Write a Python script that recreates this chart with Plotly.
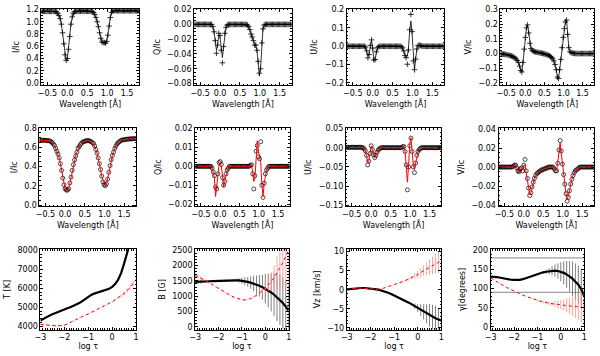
import plotly.graph_objects as go

W, H = 600, 356

# wavelength grid of the spectral panels [A]
wl = [-0.66, -0.63, -0.60, -0.57, -0.54, -0.51, -0.48, -0.45, -0.42, -0.39,
      -0.36, -0.33, -0.30, -0.27, -0.24, -0.21, -0.18, -0.15, -0.12, -0.09,
      -0.06, -0.03, 0.00, 0.03, 0.06, 0.09, 0.12, 0.15, 0.18, 0.21,
      0.24, 0.27, 0.30, 0.33, 0.36, 0.39, 0.42, 0.45, 0.48, 0.51,
      0.54, 0.57, 0.60, 0.63, 0.66, 0.69, 0.72, 0.75, 0.78, 0.81,
      0.84, 0.87, 0.90, 0.93, 0.96, 0.99, 1.02, 1.05, 1.08, 1.11,
      1.14, 1.17, 1.20, 1.23, 1.26, 1.29, 1.32, 1.35, 1.38, 1.41,
      1.44, 1.47, 1.50, 1.53, 1.56, 1.59, 1.62, 1.65, 1.68, 1.71,
      1.74, 1.77, 1.80]

# top row: observed profiles (+) and fit
top_i = [1.17, 1.172, 1.17, 1.168, 1.17, 1.172, 1.17, 1.17, 1.168, 1.17,
         1.17, 1.17, 1.165, 1.16, 1.14, 1.10, 1.05, 0.96, 0.82, 0.64,
         0.46, 0.37, 0.40, 0.55, 0.76, 0.96, 1.08, 1.14, 1.16, 1.17,
         1.17, 1.172, 1.17, 1.17, 1.175, 1.172, 1.17, 1.175, 1.172, 1.17,
         1.17, 1.17, 1.17, 1.165, 1.15, 1.12, 1.07, 1.00, 0.92, 0.82,
         0.73, 0.67, 0.66, 0.66, 0.65, 0.68, 0.78, 0.93, 1.07, 1.15,
         1.175, 1.18, 1.18, 1.182, 1.18, 1.18, 1.18, 1.182, 1.18, 1.18,
         1.18, 1.18, 1.182, 1.18, 1.18, 1.18, 1.18, 1.18, 1.182, 1.18,
         1.18, 1.18, 1.18]
top_q_obs = [0, 0, 0, 0, 0, 0, 0, 0, 0, 0,
             0, 0, 0, 0, 0, 0, -0.003, -0.010, -0.022, -0.039,
             -0.028, -0.012, -0.015, -0.035, -0.052, -0.030, -0.012, -0.004, -0.001, 0,
             0, 0, 0, 0, 0, 0, 0, 0, 0, 0,
             0, 0, 0, 0, 0, -0.001, -0.003, -0.007, -0.013, -0.017,
             -0.022, -0.028, -0.028, -0.035, -0.050, -0.066, -0.060, -0.025, -0.006, -0.001,
             0, 0, 0, 0, 0, 0, 0, 0, 0, 0,
             0, 0, 0, 0, 0, 0, 0, 0, 0, 0,
             0, 0, 0]
top_q_fit = [0, 0, 0, 0, 0, 0, 0, 0, 0, 0,
             0, 0, 0, 0, 0, 0, -0.003, -0.010, -0.022, -0.035,
             -0.028, -0.014, -0.017, -0.035, -0.045, -0.030, -0.012, -0.004, -0.001, 0,
             0, 0, 0, 0, 0, 0, 0, 0, 0, 0,
             0, 0, 0, 0, 0, -0.001, -0.003, -0.007, -0.013, -0.019,
             -0.023, -0.026, -0.029, -0.036, -0.052, -0.070, -0.058, -0.025, -0.006, -0.001,
             0, 0, 0, 0, 0, 0, 0, 0, 0, 0,
             0, 0, 0, 0, 0, 0, 0, 0, 0, 0,
             0, 0, 0]
top_u_obs = [0, 0, 0, 0, 0, 0, 0, 0, 0, 0,
             0, 0, 0, 0, 0, 0, -0.005, -0.025, -0.063, -0.045,
             0.005, 0.035, -0.010, -0.075, -0.072, -0.030, -0.008, -0.002, 0, 0,
             0, 0, 0, 0, 0, 0, 0, 0, 0, 0,
             0, 0, 0, 0, 0, 0, -0.002, -0.008, -0.025, -0.050,
             -0.062, -0.098, -0.020, 0.090, 0.174, 0.080, -0.080, -0.128, -0.070, -0.015,
             0.004, 0.006, 0.004, 0.002, 0, 0, 0, 0, 0, 0,
             0, 0, 0, 0, 0, 0, 0, 0, 0, 0,
             0, 0, 0]
top_u_fit = [0, 0, 0, 0, 0, 0, 0, 0, 0, 0,
             0, 0, 0, 0, 0, 0, -0.005, -0.025, -0.054, -0.042,
             0.003, 0.033, -0.010, -0.078, -0.070, -0.030, -0.008, -0.002, 0, 0,
             0, 0, 0, 0, 0, 0, 0, 0, 0, 0,
             0, 0, 0, 0, 0, 0, -0.002, -0.008, -0.025, -0.048,
             -0.060, -0.055, -0.005, 0.085, 0.138, 0.070, -0.075, -0.130, -0.068, -0.015,
             0.004, 0.006, 0.004, 0.002, 0, 0, 0, 0, 0, 0,
             0, 0, 0, 0, 0, 0, 0, 0, 0, 0,
             0, 0, 0]
top_v = [-0.002, -0.002, -0.003, -0.004, -0.005, -0.006, -0.008, -0.010, -0.012, -0.014,
         -0.017, -0.020, -0.025, -0.030, -0.037, -0.047, -0.060, -0.085, -0.115, -0.125,
         -0.060, 0.030, 0.110, 0.175, 0.195, 0.140, 0.070, 0.035, 0.022, 0.016,
         0.013, 0.011, 0.009, 0.008, 0.006, 0.005, 0.003, 0.001, -0.001, -0.003,
         -0.005, -0.008, -0.011, -0.015, -0.020, -0.027, -0.036, -0.050, -0.075, -0.110,
         -0.160, -0.170, -0.110, -0.040, 0.040, 0.110, 0.170, 0.215, 0.228, 0.130,
         0.040, 0.012, 0.006, 0.004, 0.002, 0.001, 0, 0, 0, 0,
         0, 0, 0, 0, 0, 0, 0, 0, 0, 0,
         0, 0, 0]

# middle row: observed profiles (o) and fit (red)
mid_i = [0.675, 0.675, 0.672, 0.675, 0.672, 0.675, 0.672, 0.67, 0.67, 0.668,
         0.66, 0.65, 0.635, 0.62, 0.59, 0.56, 0.53, 0.49, 0.43, 0.36,
         0.28, 0.21, 0.17, 0.155, 0.155, 0.17, 0.23, 0.29, 0.36, 0.42,
         0.47, 0.51, 0.55, 0.59, 0.61, 0.63, 0.645, 0.655, 0.66, 0.665,
         0.67, 0.67, 0.67, 0.665, 0.66, 0.65, 0.64, 0.615, 0.58, 0.54,
         0.49, 0.43, 0.37, 0.30, 0.24, 0.21, 0.20, 0.22, 0.27, 0.34,
         0.41, 0.47, 0.515, 0.55, 0.59, 0.615, 0.635, 0.65, 0.66, 0.67,
         0.675, 0.678, 0.68, 0.682, 0.685, 0.685, 0.687, 0.688, 0.688, 0.69,
         0.69, 0.69, 0.69]
mid_q_obs = [0, 0, 0, 0, 0, 0, 0, 0, 0, 0,
             0, 0, 0, 0, 0, -0.001, -0.003, -0.005, -0.011, -0.012,
             -0.004, 0.002, 0.0025, 0.001, -0.006, -0.010, -0.008, -0.004, -0.002, -0.001,
             0, 0, 0, 0, 0, 0, 0, 0, 0, 0,
             0, 0, 0, 0, 0, 0, 0, 0, 0.0005, 0.0008,
             -0.004, -0.012, -0.005, 0.008, 0.011, 0.005, 0.004, 0.013, -0.010, -0.0165,
             -0.009, -0.004, -0.002, -0.001, 0, 0, 0, 0, 0, 0,
             0, 0, 0, 0, 0, 0, 0, 0, 0, 0,
             0, 0, 0]
mid_q_fit = [0, 0, 0, 0, 0, 0, 0, 0, 0, 0,
             0, 0, 0, 0, 0, -0.001, -0.003, -0.006, -0.016, -0.010,
             -0.003, 0.001, 0.002, 0.0, -0.005, -0.011, -0.008, -0.004, -0.002, -0.001,
             0, 0, 0, 0, 0, 0, 0, 0, 0, 0,
             0, 0, 0, 0, 0, 0, 0, 0, 0.0005, 0.0008,
             -0.003, -0.008, -0.006, 0.005, 0.0135, 0.008, 0.004, 0.002, -0.010, -0.016,
             -0.009, -0.004, -0.002, -0.001, 0, 0, 0, 0, 0, 0,
             0, 0, 0, 0, 0, 0, 0, 0, 0, 0,
             0, 0, 0]
mid_u_obs = [0.001, 0.001, 0.001, 0.001, 0.001, 0.001, 0.001, 0.001, 0.001, 0.001,
             0.001, 0.001, 0.001, 0.001, 0.001, 0, -0.003, -0.008, -0.020, -0.045,
             -0.035, -0.015, 0.005, -0.005, -0.018, -0.026, -0.020, -0.012, -0.006, -0.003,
             -0.001, 0, 0, 0, 0, 0, 0, 0, 0, 0,
             0, 0, 0, 0, 0, 0, 0, 0, 0, 0.003,
             0.003, -0.010, -0.045, -0.110, -0.050, 0.005, 0.025, -0.010, -0.050, -0.065,
             -0.040, -0.020, -0.010, -0.005, -0.002, 0, 0, 0, 0, 0,
             0, 0, 0, 0, 0, 0, 0, 0, 0, 0,
             0, 0, 0]
mid_u_fit = [0.001, 0.001, 0.001, 0.001, 0.001, 0.001, 0.001, 0.001, 0.001, 0.001,
             0.001, 0.001, 0.001, 0.001, 0.001, 0, -0.003, -0.008, -0.020, -0.040,
             -0.035, -0.012, 0.004, -0.004, -0.018, -0.026, -0.021, -0.012, -0.006, -0.003,
             -0.001, 0, 0, 0, 0, 0, 0, 0, 0, 0,
             0, 0, 0, 0, 0, 0, 0, 0, 0, 0.002,
             0.002, -0.010, -0.050, -0.090, -0.045, 0.010, 0.026, -0.010, -0.045, -0.057,
             -0.040, -0.020, -0.010, -0.005, -0.002, 0, 0, 0, 0, 0,
             0, 0, 0, 0, 0, 0, 0, 0, 0, 0,
             0, 0, 0]
mid_v_obs = [0, 0, 0, 0, 0, 0, 0, 0, 0, 0,
             0, 0, 0, 0.001, 0.002, 0.002, -0.001, -0.004, -0.005, -0.002,
             -0.001, -0.004, 0.002, 0.008, -0.004, -0.012, -0.022, -0.030, -0.027, -0.021,
             -0.016, -0.012, -0.009, -0.007, -0.006, -0.005, -0.004, -0.003, -0.003, -0.002,
             -0.002, -0.001, -0.001, 0, 0, 0, 0, 0, -0.002, -0.004,
             -0.004, 0.004, 0.018, 0.028, 0.017, 0.003, -0.008, -0.018, -0.028, -0.036,
             -0.032, -0.025, -0.018, -0.013, -0.009, -0.006, -0.004, -0.003, -0.002, -0.001,
             0, 0, 0, 0, 0, 0, 0, 0, 0, 0,
             0, 0, 0]
mid_v_fit = [0, 0, 0, 0, 0, 0, 0, 0, 0, 0,
             0, 0, 0, 0.001, 0.002, 0.002, -0.001, -0.004, -0.006, -0.002,
             -0.001, -0.002, 0.002, 0.002, -0.005, -0.012, -0.022, -0.029, -0.027, -0.021,
             -0.016, -0.012, -0.009, -0.007, -0.006, -0.005, -0.004, -0.003, -0.003, -0.002,
             -0.002, -0.001, -0.001, 0, 0, 0, 0, 0, -0.002, -0.003,
             -0.003, 0.005, 0.020, 0.026, 0.015, 0.003, -0.008, -0.018, -0.028, -0.034,
             -0.031, -0.025, -0.018, -0.013, -0.009, -0.006, -0.004, -0.003, -0.002, -0.001,
             0, 0, 0, 0, 0, 0, 0, 0, 0, 0,
             0, 0, 0]

# bottom row: stratifications vs log tau (black and red models with errors)
logtau = [-3.0, -2.875, -2.75, -2.625, -2.5, -2.375, -2.25, -2.125, -2.0, -1.875,
          -1.75, -1.625, -1.5, -1.375, -1.25, -1.125, -1.0, -0.875, -0.75, -0.625,
          -0.5, -0.375, -0.25, -0.125, 0.0, 0.125, 0.25, 0.375, 0.5, 0.625,
          0.75, 0.875, 1.0]
t_black = [4300, 4400, 4480, 4560, 4640, 4710, 4780, 4840, 4900, 4950,
           5000, 5060, 5130, 5220, 5330, 5450, 5560, 5650, 5720, 5770,
           5810, 5850, 5900, 5970, 6070, 6220, 6450, 6800, 7300, 7900,
           8500, 9000, 9500]
t_black_err = [20, 20, 20, 20, 20, 20, 20, 20, 20, 20,
               20, 20, 20, 20, 20, 20, 20, 20, 20, 20,
               20, 20, 20, 20, 30, 40, 50, 60, 80, 100,
               120, 140, 160]
t_red = [4100, 4080, 4060, 4050, 4040, 4030, 4030, 4040, 4060, 4120,
         4200, 4290, 4380, 4450, 4520, 4590, 4650, 4730, 4800, 4880,
         4950, 5030, 5110, 5200, 5290, 5400, 5500, 5610, 5720, 5870,
         6050, 6250, 6450]
t_red_err = [60, 60, 60, 60, 60, 60, 60, 50, 40, 30,
             30, 30, 30, 30, 30, 30, 30, 30, 30, 30,
             30, 30, 30, 30, 40, 50, 60, 80, 100, 120,
             140, 160, 170]
b_black = [1470, 1470, 1475, 1480, 1485, 1490, 1495, 1500, 1505, 1510,
           1515, 1520, 1520, 1520, 1520, 1515, 1505, 1490, 1470, 1445,
           1415, 1380, 1340, 1295, 1245, 1190, 1125, 1050, 970, 880,
           780, 660, 530]
b_black_err = [80, 70, 60, 50, 40, 30, 30, 30, 30, 30,
               30, 30, 30, 40, 50, 70, 100, 130, 160, 200,
               250, 300, 350, 410, 480, 550, 620, 700, 780, 820,
               840, 850, 850]
b_red = [1680, 1640, 1590, 1540, 1490, 1430, 1370, 1310, 1250, 1190,
         1130, 1080, 1030, 980, 940, 905, 885, 880, 895, 925,
         970, 1030, 1100, 1180, 1270, 1370, 1480, 1610, 1760, 1920,
         2100, 2300, 2520]
b_red_err = [100, 80, 60, 40, 30, 20, 20, 20, 20, 20,
             20, 20, 20, 20, 20, 20, 20, 20, 20, 20,
             25, 40, 60, 90, 130, 200, 300, 400, 550, 700,
             850, 1000, 1100]
vz_black = [0.1, 0.2, 0.3, 0.35, 0.4, 0.45, 0.45, 0.4, 0.35, 0.25,
            0.1, -0.05, -0.25, -0.5, -0.8, -1.1, -1.45, -1.8, -2.2, -2.6,
            -3.0, -3.4, -3.85, -4.3, -4.8, -5.3, -5.8, -6.3, -6.75, -7.15,
            -7.5, -7.8, -8.1]
vz_black_err = [0.1, 0.1, 0.1, 0.1, 0.1, 0.1, 0.1, 0.1, 0.1, 0.1,
                0.1, 0.1, 0.1, 0.1, 0.1, 0.1, 0.1, 0.1, 0.1, 0.1,
                0.1, 0.2, 0.4, 0.7, 1.0, 1.5, 2.0, 2.5, 3.0, 3.2,
                3.3, 3.0, 2.5]
vz_red = [0.1, 0.2, 0.3, 0.35, 0.4, 0.4, 0.35, 0.3, 0.25, 0.15,
          0.1, 0.15, 0.3, 0.55, 0.8, 1.0, 1.25, 1.55, 1.85, 2.15,
          2.45, 2.8, 3.2, 3.6, 4.0, 4.5, 5.0, 5.45, 5.9, 6.35,
          6.8, 7.2, 7.6]
vz_red_err = [0.1, 0.1, 0.1, 0.1, 0.1, 0.1, 0.1, 0.1, 0.1, 0.1,
              0.1, 0.1, 0.1, 0.1, 0.1, 0.1, 0.1, 0.15, 0.2, 0.25,
              0.3, 0.4, 0.5, 0.7, 0.9, 1.15, 1.4, 1.7, 2.0, 2.3,
              2.6, 2.8, 3.0]
g_black = [131, 131, 130, 129, 127, 125.5, 124, 123, 122.5, 122.5,
           123, 124.5, 126.5, 129, 132, 135, 138, 140.5, 142.5, 144,
           145.5, 146.5, 147, 146, 144, 141, 137, 132, 126, 118,
           110, 98, 80]
g_black_err = [1, 1, 1, 1, 1, 1, 1, 1, 1, 1,
               1, 1, 1, 1, 1, 1, 1, 2, 3, 5,
               8, 12, 16, 20, 25, 30, 35, 40, 45, 48,
               50, 50, 50]
g_red = [128, 123, 118, 113, 109, 105, 101, 97, 93.5, 90,
         86.5, 83, 80, 77, 74, 71.5, 69, 67, 65, 63,
         61.5, 60.5, 59.5, 58.5, 58, 57, 56, 55, 54, 53,
         52, 51, 50]
g_red_err = [1, 1, 1, 1, 1, 1, 1, 1, 1, 1,
             1, 1, 1, 1, 2, 2, 3, 3, 4, 4,
             5, 6, 8, 10, 12, 15, 18, 21, 25, 30,
             35, 40, 45]
gamma_ref = [90, 180]
gamma_ref_x = [-3, 1]

font = dict(family='DejaVu Sans', size=8, color='black')

# panel boxes in pixels: (left, right), (top, bottom)
cells = [
    dict(xp=(36, 135), yp=(5, 83), yr=[-0.035, 1.21], yt='I/Ic', ydt=0.2, ym=0.05, yf='.1f'),
    dict(xp=(191, 290), yp=(5, 83), yr=[-0.0822, 0.021], yt='Q/Ic', ydt=0.02, ym=0.005, yf='.2f'),
    dict(xp=(346, 445), yp=(5, 83), yr=[-0.212, 0.204], yt='U/Ic', ydt=0.1, ym=0.02, yf='.1f'),
    dict(xp=(502, 597), yp=(5, 83), yr=[-0.215, 0.304], yt='V/Ic', ydt=0.1, ym=0.02, yf='.1f'),
    dict(xp=(34, 132), yp=(127, 207), yr=[-0.014, 0.80], yt='I/Ic', ydt=0.2, ym=0.05, yf='.1f'),
    dict(xp=(192, 288), yp=(127, 207), yr=[-0.0212, 0.0202], yt='Q/Ic', ydt=0.01, ym=0.002, yf='.2f'),
    dict(xp=(345, 442), yp=(127, 207), yr=[-0.153, 0.051], yt='U/Ic', ydt=0.05, ym=0.01, yf='.2f'),
    dict(xp=(500, 597), yp=(127, 207), yr=[-0.0414, 0.041], yt='V/Ic', ydt=0.02, ym=0.005, yf='.2f'),
    dict(xp=(35, 132), yp=(251, 333), yr=[3830, 8050], yt='T [K]', ydt=1000, ym=200, yf='d'),
    dict(xp=(192, 287), yp=(251, 333), yr=[-85, 2530], yt='B [G]', ydt=500, ym=100, yf='d'),
    dict(xp=(346, 442), yp=(251, 333), yr=[-10.45, 10.6], yt='Vz [km/s]', ydt=5, ym=1, yf='d'),
    dict(xp=(492, 587), yp=(251, 333), yr=[-7, 202.5], yt='γ[degrees]', ydt=50, ym=10, yf='d'),
]

fig = go.Figure()

axis_style = dict(showline=True, linecolor='black', linewidth=1, mirror='allticks',
                  ticks='inside', ticklen=3, tickwidth=1, tickcolor='black',
                  showgrid=False, zeroline=False, tickfont=font)

layout = {}
for n, c in enumerate(cells, start=1):
    sfx = '' if n == 1 else str(n)
    bottom = n > 8
    layout['xaxis' + sfx] = dict(
        axis_style, anchor='y' + sfx,
        domain=[c['xp'][0] / W, c['xp'][1] / W],
        range=[-3, 1] if bottom else [-0.65, 1.8],
        tick0=0, dtick=1 if bottom else 0.5,
        tickformat='d' if bottom else '.1f',
        minor=dict(dtick=0.1, ticks='inside', ticklen=1.5, tickcolor='black'),
        title=dict(text='log τ' if bottom else 'Wavelength [Å]', font=font,
                   standoff=0 if bottom else 2))
    layout['yaxis' + sfx] = dict(
        axis_style, anchor='x' + sfx,
        domain=[1 - c['yp'][1] / H, 1 - c['yp'][0] / H],
        range=c['yr'], tick0=0, dtick=c['ydt'], tickformat=c['yf'],
        minor=dict(dtick=c['ym'], ticks='inside', ticklen=1.5, tickcolor='black'),
        title=dict(text=c['yt'], font=font, standoff=5))


def ax(n):
    return ('x', 'y') if n == 1 else ('x%d' % n, 'y%d' % n)


plus = dict(symbol='cross-thin', size=4, color='black', line=dict(width=0.8, color='black'))
circ = dict(symbol='circle-open', size=4, color='black', line=dict(width=0.7, color='black'))

# top row
for n, obs, fit in [(1, top_i, None), (2, top_q_obs, top_q_fit),
                    (3, top_u_obs, top_u_fit), (4, top_v, None)]:
    xa, ya = ax(n)
    if fit is None:
        fig.add_trace(go.Scatter(x=wl, y=obs, mode='lines+markers', marker=plus,
                                 line=dict(color='black', width=0.8), xaxis=xa, yaxis=ya))
    else:
        fig.add_trace(go.Scatter(x=wl, y=fit, mode='lines', line=dict(color='black', width=0.8),
                                 xaxis=xa, yaxis=ya))
        fig.add_trace(go.Scatter(x=wl, y=obs, mode='markers', marker=plus, xaxis=xa, yaxis=ya))

# middle row
for n, obs, fit in [(5, mid_i, mid_i), (6, mid_q_obs, mid_q_fit),
                    (7, mid_u_obs, mid_u_fit), (8, mid_v_obs, mid_v_fit)]:
    xa, ya = ax(n)
    fig.add_trace(go.Scatter(x=wl, y=obs, mode='markers', marker=circ, xaxis=xa, yaxis=ya))
    fig.add_trace(go.Scatter(x=wl, y=fit, mode='lines', line=dict(color='red', width=1),
                             xaxis=xa, yaxis=ya))

# bottom row
for n, blk, blk_err, red, red_err in [(9, t_black, t_black_err, t_red, t_red_err),
                                      (10, b_black, b_black_err, b_red, b_red_err),
                                      (11, vz_black, vz_black_err, vz_red, vz_red_err),
                                      (12, g_black, g_black_err, g_red, g_red_err)]:
    xa, ya = ax(n)
    if n == 12:
        for g in gamma_ref:
            fig.add_trace(go.Scatter(x=gamma_ref_x, y=[g, g], mode='lines',
                                     line=dict(color='#a0a0a0', width=1.3), xaxis=xa, yaxis=ya))
    fig.add_trace(go.Scatter(x=logtau, y=blk, mode='lines',
                             line=dict(color='black', width=2.2),
                             error_y=dict(type='data', array=blk_err, width=0, thickness=0.8,
                                          color='#606060'),
                             xaxis=xa, yaxis=ya))
    fig.add_trace(go.Scatter(x=logtau, y=red, mode='lines',
                             line=dict(color='red', width=1, dash='dot'),
                             error_y=dict(type='data', array=red_err, width=0, thickness=0.8,
                                          color='#ff8c8c'),
                             xaxis=xa, yaxis=ya))

fig.update_layout(layout)
fig.update_layout(width=W, height=H, margin=dict(l=0, r=0, t=0, b=0),
                  paper_bgcolor='white', plot_bgcolor='white', showlegend=False,
                  font=font)

# the page's default body margin would shift the 600x356 figure off the window
fig.write_html("out.html", config={'displayModeBar': False},
               post_script="document.body.style.margin = '0';")
